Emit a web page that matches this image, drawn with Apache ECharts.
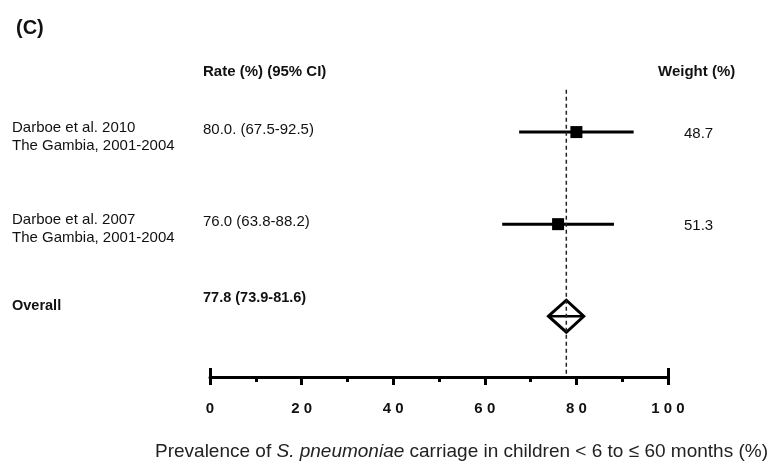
<!DOCTYPE html>
<html>
<head>
<meta charset="utf-8">
<title>Forest plot</title>
<script src="https://cdn.jsdelivr.net/npm/echarts@6/dist/echarts.min.js"></script>
<style>
  html, body { margin: 0; padding: 0; background: #fff; }
  #main { width: 776px; height: 461px; }
</style>
</head>
<body>
<div id="main"></div>
<script>
// study data
var studies = ['Darboe et al. 2010\nThe Gambia, 2001-2004', 'Darboe et al. 2007\nThe Gambia, 2001-2004'];
var rates = [80.0, 76.0];
var lower = [67.5, 63.8];
var upper = [92.5, 88.2];
var rateText = ['80.0. (67.5-92.5)', '76.0 (63.8-88.2)'];
var weights = ['48.7', '51.3'];

// pooled estimate
var overallName = 'Overall';
var overall = [73.9, 81.6, 77.8];
var overallText = '77.8 (73.9-81.6)';

var xTicks = [0, 20, 40, 60, 80, 100];

var FONT = '"Liberation Sans", Arial, Helvetica, sans-serif';
var chart = echarts.init(document.getElementById('main'));

function txt(t, x, y, size, bold, extra) {
    var s = {
        text: t, x: x, y: y, fill: '#111',
        fontSize: size, fontFamily: FONT, fontWeight: bold ? 'bold' : 'normal',
        align: 'left', verticalAlign: 'middle'
    };
    for (var k in extra) s[k] = extra[k];
    return { type: 'text', style: s };
}

var studyData = studies.map(function (s, i) {
    return [lower[i], upper[i], rates[i], i + 1];
});

var option = {
    animation: false,
    title: {
        text: '(C)', left: 11, top: 13,
        textStyle: { fontSize: 20, fontWeight: 'bold', fontFamily: FONT, color: '#111' }
    },
    grid: { left: 210, right: 108, top: 40, bottom: 84, containLabel: false },
    xAxis: [{
        type: 'value', min: xTicks[0], max: xTicks[xTicks.length - 1], interval: 20,
        position: 'bottom',
        axisLine: { show: true, onZero: false, lineStyle: { color: '#000', width: 3 } },
        axisTick: { show: true, length: 8, lineStyle: { color: '#000', width: 3 } },
        minorTick: { show: true, splitNumber: 2, length: 5, lineStyle: { color: '#000', width: 3 } },
        splitLine: { show: false },
        axisLabel: {
            margin: 24, color: '#111', fontSize: 15, fontWeight: 'bold', fontFamily: FONT,
            formatter: function (v) { return String(v).split('').join(' '); }
        }
    }, {
        // end caps at 0 and 100
        type: 'value', position: 'bottom', min: 0, max: 100, interval: 100,
        axisLine: { show: false, onZero: false },
        axisTick: { show: true, inside: true, length: 9, lineStyle: { color: '#000', width: 3 } },
        axisLabel: { show: false },
        splitLine: { show: false }
    }],
    yAxis: { type: 'value', min: 0, max: 3.66, inverse: true, show: false },
    graphic: [
        txt('Rate (%) (95% CI)', 203, 72, 15, true),
        txt('Weight (%)', 658, 72, 15, true),
        {
            type: 'text', left: 155, top: 442,
            style: {
                text: 'Prevalence of {i|S. pneumoniae} carriage in children < 6 to \u2264 60 months (%)',
                fontSize: 19, fontFamily: FONT, fill: '#222',
                rich: { i: { fontStyle: 'italic', fontSize: 19, fontFamily: FONT } }
            }
        }
    ],
    series: [{
        type: 'line',
        data: [[overall[2], 0.54], [overall[2], 3.66]],
        symbol: 'none', silent: true,
        lineStyle: { color: '#222', width: 1.5, type: [4, 3] }
    }, {
        type: 'custom', clip: false,
        data: studyData,
        renderItem: function (params, api) {
            var i = params.dataIndex;
            var a = api.coord([api.value(0), api.value(3)]);
            var b = api.coord([api.value(1), api.value(3)]);
            var c = api.coord([api.value(2), api.value(3)]);
            var h = 6;
            return {
                type: 'group',
                children: [
                    { type: 'line', shape: { x1: a[0], y1: a[1], x2: b[0], y2: b[1] },
                      style: { stroke: '#000', lineWidth: 3 } },
                    { type: 'rect', shape: { x: c[0] - h, y: c[1] - h, width: 2 * h, height: 2 * h },
                      style: { fill: '#000' } },
                    txt(studies[i], 12, c[1] + 5, 15, false, { lineHeight: 18 }),
                    txt(rateText[i], 203, c[1] - 2, 15, false),
                    txt(weights[i], 684, c[1] + 2, 15, false)
                ]
            };
        }
    }, {
        type: 'custom', clip: false,
        data: [[overall[0], overall[1], overall[2], 3]],
        renderItem: function (params, api) {
            var a = api.coord([api.value(0), api.value(3)]);
            var b = api.coord([api.value(1), api.value(3)]);
            var c = api.coord([api.value(2), api.value(3)]);
            var h = 16;
            return {
                type: 'group',
                children: [
                    { type: 'polygon',
                      shape: { points: [[a[0], a[1]], [c[0], c[1] - h], [b[0], b[1]], [c[0], c[1] + h]] },
                      style: { fill: 'none', stroke: '#000', lineWidth: 3, lineJoin: 'miter' } },
                    { type: 'line', shape: { x1: a[0], y1: a[1], x2: b[0], y2: b[1] },
                      style: { stroke: '#000', lineWidth: 2.5 } },
                    txt(overallName, 12, c[1] - 10, 14.5, true),
                    txt(overallText, 203, c[1] - 18, 14.5, true)
                ]
            };
        }
    }]
};
chart.setOption(option);
</script>
</body>
</html>
